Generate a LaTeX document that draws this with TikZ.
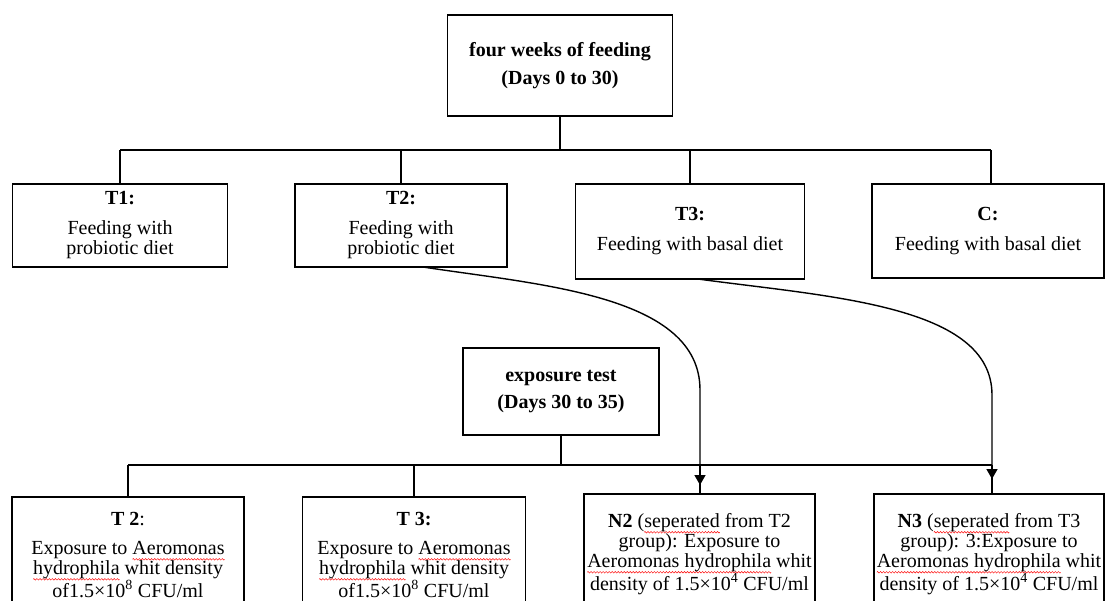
\documentclass[tikz,border=0pt]{standalone}
\usepackage{fontspec}
\setmainfont{Liberation Serif}
\usetikzlibrary{arrows.meta,calc}
\newsavebox\wavebox
\newsavebox\wordbox
\newcommand\spellwave[1]{\leavevmode\sbox\wordbox{#1}\rlap{\raise-4.5pt\hbox to\wd\wordbox{\xleaders\copy\wavebox\hfil}}\usebox\wordbox}
\begin{document}
\sbox\wavebox{\begin{pgfpicture}%
  \pgfsetlinewidth{0.45pt}\pgfsetstrokecolor{red}%
  \pgfpathmoveto{\pgfpoint{0pt}{0pt}}%
  \pgfpathsine{\pgfpoint{0.75pt}{0.8pt}}%
  \pgfpathcosine{\pgfpoint{0.75pt}{-0.8pt}}%
  \pgfpathsine{\pgfpoint{0.75pt}{-0.8pt}}%
  \pgfpathcosine{\pgfpoint{0.75pt}{0.8pt}}%
  \pgfusepath{stroke}%
  \pgfresetboundingbox
  \pgfpathrectangle{\pgfpointorigin}{\pgfpoint{3pt}{0pt}}%
  \pgfusepath{use as bounding box}%
\end{pgfpicture}}%
\begin{tikzpicture}[x=1pt,y=-1pt,
  box/.style={draw, line width=1.1pt, rectangle, inner sep=0pt, outer sep=0pt, align=center, font=\fontsize{20}{20}\selectfont},
  link/.style={line width=1.4pt},
  bus/.style={line width=1.9pt},
  tip/.style={-{Triangle[width=11pt,length=10pt]}}]
\useasboundingbox (0,0) rectangle (1106,600);
\fill[white] (0,0) rectangle (1106,600);
\clip (0,0) rectangle (1106,600);

% top stage
\node[box, minimum width=225, minimum height=101] (top) at (560,65.5)
  {\textbf{four weeks of feeding}\\[8pt]\textbf{(Days 0 to 30)}};
\node[box, minimum width=215, minimum height=83] (T1) at (120,225.5)
  {\textbf{T1:}\\[10pt]Feeding with\\probiotic diet};
\node[box, minimum width=212, minimum height=83] (T2) at (401,225.5)
  {\textbf{T2:}\\[10pt]Feeding with\\probiotic diet};
\node[box, minimum width=229, minimum height=95] (T3) at (690,231.5)
  {\textbf{T3:}\\[10pt]Feeding with basal diet};
\node[box, minimum width=232, minimum height=94] (C) at (988,231)
  {\textbf{C:}\\[10pt]Feeding with basal diet};

% exposure stage
\node[box, minimum width=196, minimum height=87] (exp) at (561,391.5)
  {\textbf{exposure test}\\[7pt]\textbf{(Days 30 to 35)}};
\node[box, minimum width=232, minimum height=116] (B1) at (128,555)
  {\textbf{T 2}:\\[9pt]Exposure to \spellwave{Aeromonas}\\\spellwave{hydrophila} whit density\\of1.5×10\textsuperscript{8} CFU/ml};
\node[box, minimum width=223, minimum height=116] (B2) at (414,555)
  {\textbf{T 3:}\\[9pt]Exposure to \spellwave{Aeromonas}\\\spellwave{hydrophila} whit density\\of1.5×10\textsuperscript{8} CFU/ml};
\node[box, minimum width=231, minimum height=120] (N2) at (699.5,554)
  {\textbf{N2} (\spellwave{seperated} from T2\\group): Exposure to\\\spellwave{Aeromonas hydrophila} whit\\density of 1.5×10\textsuperscript{4} CFU/ml};
\node[box, minimum width=230, minimum height=120] (N3) at (989,554)
  {\textbf{N3} (\spellwave{seperated} from T3\\group): 3:Exposure to\\\spellwave{Aeromonas hydrophila} whit\\density of 1.5×10\textsuperscript{4} CFU/ml};

% top tree
\coordinate (ta) at (120,150);
\coordinate (tb) at (991,150);
\coordinate (tc) at (560,150);
\draw[bus] (top.south) -- (tc);
\draw[bus] (ta) -- (tb);
\draw[link] (T1.north |- ta) -- (T1.north);
\draw[link] (T2.north |- ta) -- (T2.north);
\draw[link] (T3.north |- ta) -- (T3.north);
\draw[link] (tb) -- (tb |- C.north);

% bottom tree
\coordinate (ba) at (128,465);
\coordinate (bb) at (992,465);
\coordinate (bn) at (700,465);
\coordinate (bc) at (561,465);
\draw[link] (exp.south) -- (bc);
\draw[link] (ba) -- (bb);
\draw[link] (B1.north |- ba) -- (B1.north);
\draw[link] (B2.north |- ba) -- (B2.north);
\draw[link] (bn) -- (bn |- N2.north);
\draw[link] (bb) -- (bb |- N3.north);

% carried groups
\coordinate (n2tip) at (700,485);
\coordinate (n3tip) at (992,479);
\draw[link, tip] ($(T2.south)+(22,0)$) .. controls (540,285) and (700,295) .. (700,390) -- (n2tip);
\draw[link, tip] ($(T3.south)+(8,0)$) .. controls (830,297) and (992,305) .. (992,395) -- (n3tip);
\end{tikzpicture}
\end{document}
